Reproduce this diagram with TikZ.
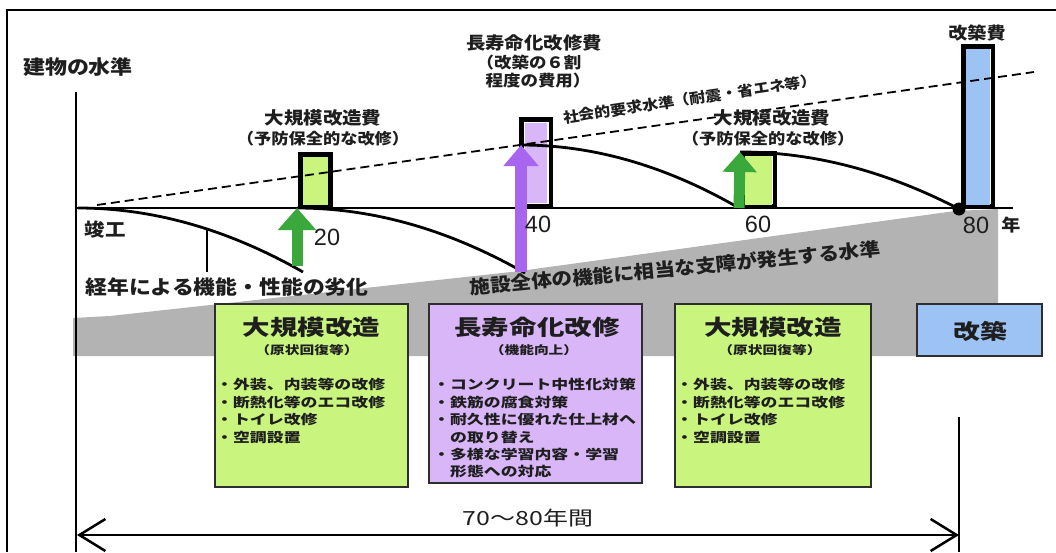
\documentclass[tikz,border=0pt]{standalone}
\usepackage{fontspec}
\usepackage{graphicx}
\usetikzlibrary{arrows.meta}
\setmainfont{Liberation Sans}
\newfontfamily\jp{Noto Sans CJK JP}
\newcommand\W[1]{\scalebox{1.28}[1]{#1}}
\newcommand\Ws[1]{\scalebox{1.12}[1]{#1}}
\definecolor{txt}{HTML}{1E1E1E}
\definecolor{gfill}{HTML}{C9F57F}
\definecolor{pfill}{HTML}{D8B6F8}
\definecolor{bfill}{HTML}{9CC3F3}
\definecolor{garr}{HTML}{3BA83B}
\definecolor{parr}{HTML}{A865EF}
\definecolor{grayband}{HTML}{B3B3B3}
\definecolor{bord}{HTML}{2E2E2E}
\tikzset{
  lbl/.style={inner sep=0pt, text=txt, font=\jp\bfseries\fontsize{#1}{#1}\selectfont},
  rlbl/.style={inner sep=0pt, text=txt, font=\jp\fontsize{#1}{#1}\selectfont},
  num/.style={inner sep=0pt, text=txt, font=\fontsize{23.5}{23.5}\selectfont},
  items/.style={inner sep=0pt, text=txt, anchor=north west, font=\jp\bfseries\fontsize{13.2}{17.4}\selectfont},
  bbox/.style={draw=bord, line width=1.5pt, inner sep=0pt},
  barbox/.style={draw=black, line width=4.5pt, fill=white, inner sep=0pt},
  curve/.style={draw=black, line width=2.8pt},
  thinline/.style={draw=black, line width=1.3pt},
  dashedline/.style={draw=black, line width=1.8pt, dash pattern=on 9pt off 5pt},
  garrow/.style={draw=garr, line width=11pt, -{Triangle[length=22pt,width=37pt]}},
  parrow/.style={draw=parr, line width=12pt, -{Triangle[length=21pt,width=34pt]}},
  spanarrow/.style={draw=black, line width=2.5pt, {Straight Barb[length=26pt,width=32pt]}-{Straight Barb[length=26pt,width=32pt]}},
}
\begin{document}
\begin{tikzpicture}[x=1pt,y=-1pt]
\useasboundingbox (0,0) rectangle (1056,552);
\fill[white] (0,0) rectangle (1056,552);
% frame
\draw[line width=2pt] (7,552) -- (7,10) -- (1056,10);
% gray band
\fill[grayband] (73,318) -- (110,316) -- (520,271) -- (955,211) -- (998,209) -- (998,356) -- (73,356) -- cycle;
% bottom boxes
\node[bbox, fill=gfill, minimum width=193pt, minimum height=183pt] (box1) at (311.5,395.5) {};
\node[bbox, fill=pfill, minimum width=213pt, minimum height=179pt] (box2) at (535.5,393.5) {};
\node[bbox, fill=gfill, minimum width=196pt, minimum height=183pt] (box3) at (773,395.5) {};
\node[bbox, fill=bfill, minimum width=125pt, minimum height=52pt] (box4) at (979.5,330) {};
\node[lbl=21.5] (t1) at (311.5,327) {\W{大規模改造}};
\node[lbl=11.5] (s1) at (307,350) {\W{（原状回復等）}};
\node[items] (i1) at (216,377.5) {\W{\begin{tabular}{@{}l@{}}・外装、内装等の改修\\・断熱化等のエコ改修\\・トイレ改修\\・空調設置\end{tabular}}};
\node[lbl=21.5] (t2) at (537,327) {\W{長寿命化改修}};
\node[lbl=11.5] (s2) at (534,350) {\W{（機能向上）}};
\node[items] (i2) at (433,377.5) {\W{\begin{tabular}{@{}l@{}}・コンクリート中性化対策\\・鉄筋の腐食対策\\・耐久性に優れた仕上材へ\\\phantom{・}の取り替え\\・多様な学習内容・学習\\\phantom{・}形態への対応\end{tabular}}};
\node[lbl=21.5] (t3) at (773,327) {\W{大規模改造}};
\node[lbl=11.5] (s3) at (770,350) {\W{（原状回復等）}};
\node[items] (i3) at (676,377.5) {\W{\begin{tabular}{@{}l@{}}・外装、内装等の改修\\・断熱化等のエコ改修\\・トイレ改修\\・空調設置\end{tabular}}};
\node[lbl=21] (t4) at (980,331) {\W{改築}};
% axes
\coordinate (ax0) at (76,552);
\coordinate (ax1) at (76,92);
\coordinate (b0) at (76,208);
\coordinate (b1) at (1013,208);
\draw[thinline] (ax0) -- (ax1);
\draw[thinline] (b0) -- (b1);
\coordinate (rv0) at (959,417);
\coordinate (rv1) at (959,552);
\draw[thinline] (rv0) -- (rv1);
% cost bars
\node[barbox, minimum width=30pt, minimum height=51.5pt] (bar20) at (315.5,180.25) {};
\fill[gfill] ([shift={(4.5,4.5)}]bar20.north west) rectangle ([shift={(-4.5,-3)}]bar20.south east);
\node[barbox, minimum width=29.5pt, minimum height=86.5pt] (bar40) at (536,162.5) {};
\fill[pfill] ([shift={(6,6)}]bar40.north west) rectangle ([shift={(-6,-5)}]bar40.south east);
\node[barbox, minimum width=32.5pt, minimum height=52.5pt] (bar60) at (758.5,179.5) {};
\fill[gfill] ([shift={(5,5)}]bar60.north west) rectangle ([shift={(-5,-3)}]bar60.south east);
\node[barbox, minimum width=29.5pt, minimum height=159.5pt] (bar80) at (978,126) {};
\fill[bfill] ([shift={(5,5)}]bar80.north west) rectangle ([shift={(-5,-3)}]bar80.south east);
% social requirement level
\coordinate (d1) at (97,205);
\coordinate (d2) at (1034,72);
\draw[dashedline] (d1) -- (d2);
% deterioration curves
\coordinate (c1s) at (78,208);  \coordinate (c1e) at (303,272);
\coordinate (c2s) at (297,208); \coordinate (c2e) at (525,273);
\coordinate (c3s) at (521,145); \coordinate (c3e) at (739,208);
\coordinate (c4s) at (740,152); \coordinate (c4e) at (959,209);
\draw[curve] (c1s) .. controls (153,208) and (228,229.3) .. (c1e);
\draw[curve] (c2s) .. controls (373,208) and (449,229.7) .. (c2e);
\draw[curve] (c3s) .. controls (593.7,145) and (666.3,166) .. (c3e);
\draw[curve] (c4s) .. controls (813,152) and (886,171) .. (c4e);
% leader line
\coordinate (ld0) at (207,230);
\coordinate (ld1) at (207,272);
\draw[thinline] (ld0) -- (ld1);
% arrows
\coordinate (g20b) at (297,266); \coordinate (g20t) at (297,208);
\draw[garrow] (g20b) -- (g20t);
\coordinate (p40b) at (521,272); \coordinate (p40t) at (521,145);
\draw[parrow] (p40b) -- (p40t);
\coordinate (g60b) at (739,208); \coordinate (g60t) at (740,152);
\draw[garrow, -{Triangle[length=20pt,width=33pt]}] (g60b) -- (g60t);
\node[circle, fill=black, inner sep=0pt, minimum size=13pt] (dot) at (959,209) {};
% labels
\node[lbl=19.6] (ylab) at (78,67) {\Ws{建物の水準}};
\node[lbl=17.4] (c20a) at (323,118) {\Ws{大規模改造費}};
\node[lbl=15.4] (c20b) at (323,139) {\Ws{（予防保全的な改修）}};
\node[lbl=17.3] (c40a) at (534,43) {\Ws{長寿命化改修費}};
\node[lbl=15.6] (c40b) at (529,63) {\Ws{（改築の６割}};
\node[lbl=15.6] (c40c) at (538,81) {\Ws{程度の費用）}};
\node[lbl=17.4] (c60a) at (772,118) {\Ws{大規模改造費}};
\node[lbl=15.4] (c60b) at (768,139) {\Ws{（予防保全的な改修）}};
\node[lbl=17] (c80) at (977,33) {\Ws{改築費}};
\node[lbl=18.3] (kanko) at (105,230) {\Ws{竣工}};
\node[num] (n20) at (327,237) {20};
\node[num] (n40) at (538,224) {40};
\node[num] (n60) at (758,224) {60};
\node[num] (n80) at (976,225) {80};
\node[lbl=17] (nen) at (1011,225) {\Ws{年}};
\node[lbl=19.5] (deg) at (227,287) {\Ws{経年による機能・性能の劣化}};
\node[lbl=18.4, rotate=5.5] (lim) at (675,268) {\Ws{施設全体の機能に相当な支障が発生する水準}};
\node[lbl=14.3, rotate=8.5] (soc) at (690,99) {\Ws{社会的要求水準（耐震・省エネ等）}};
% span arrow
\coordinate (sL) at (77,535);
\coordinate (sR) at (959,535);
\draw[spanarrow] (sL) -- (sR);
\node[rlbl=19.5] (span) at (528,518) {\W{70～80年間}};
\end{tikzpicture}
\end{document}
